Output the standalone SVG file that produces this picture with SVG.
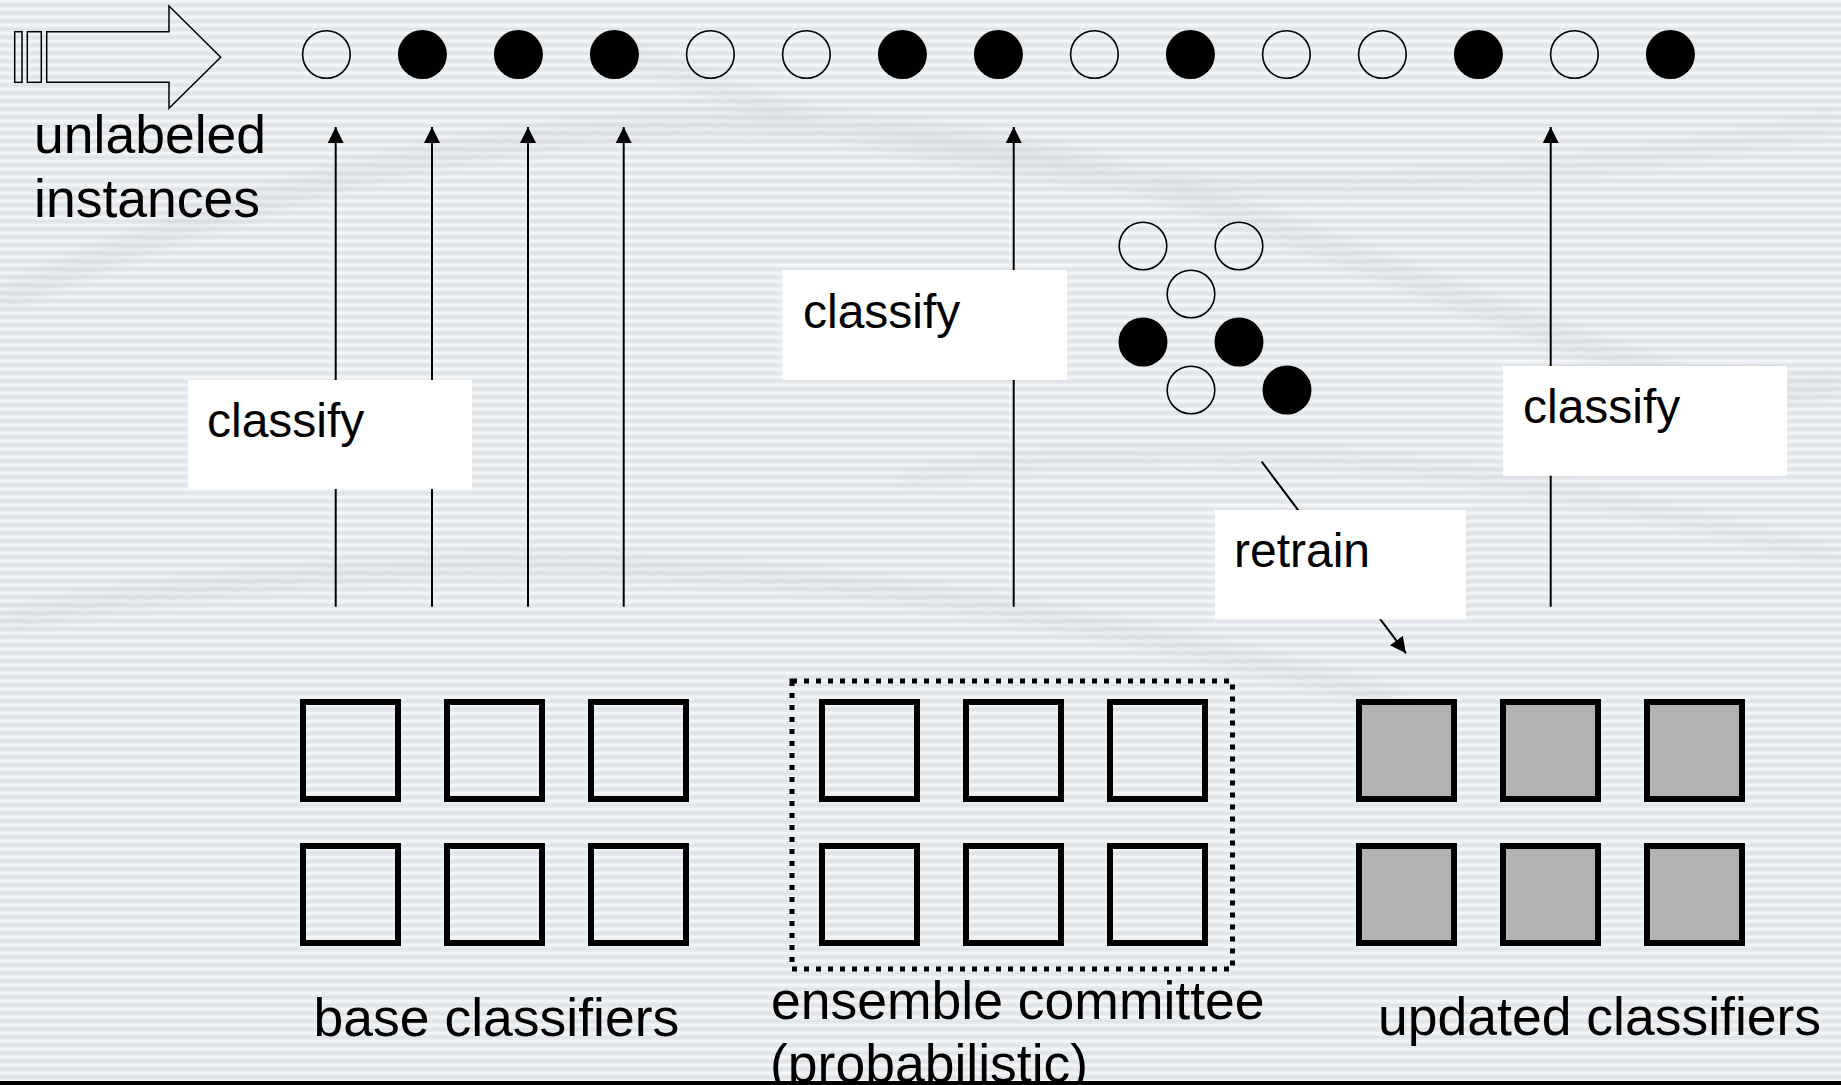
<svg xmlns="http://www.w3.org/2000/svg" width="1841" height="1085" viewBox="0 0 1841 1085">
<defs>
<pattern id="stripes" width="8" height="8" patternUnits="userSpaceOnUse">
<rect width="8" height="8" fill="#e8ebee"/>
<rect y="0" width="8" height="2.5" fill="#f3f5f7"/>
<rect y="4.5" width="8" height="1.5" fill="#dde1e5"/>
</pattern>
<filter id="blur" x="-20%" y="-50%" width="140%" height="200%"><feGaussianBlur stdDeviation="10"/></filter>
<marker id="ah" viewBox="0 0 16 16" refX="16" refY="8" markerWidth="16" markerHeight="16" markerUnits="userSpaceOnUse" orient="auto">
<path d="M0,0 L16,8 L0,16 z" fill="#000"/>
</marker>
</defs>
<style>
.lbl{font-family:"Liberation Sans",Arial,Helvetica,sans-serif;font-size:53.5px;fill:#000}
.tag{font-family:"Liberation Sans",Arial,Helvetica,sans-serif;font-size:48px;fill:#000}
.box{fill:#fff}
.conn{stroke:#000;stroke-width:2;fill:none;marker-end:url(#ah)}
.open{fill:none;stroke:#000;stroke-width:1.6}
.full{fill:#000}
.sq{fill:none;stroke:#000;stroke-width:6}
.sqg{fill:#b3b3b3;stroke:#000;stroke-width:6}
</style>
<g id="background">
<rect width="1841" height="1085" fill="url(#stripes)"/>
<g opacity="0.3" filter="url(#blur)" stroke="#b8bcc2" fill="none">
<path d="M0,300 C400,120 800,60 1200,200 S1700,420 1841,380" stroke-width="16"/>
<path d="M600,40 C900,180 1300,240 1841,120" stroke-width="12"/>
<path d="M0,620 C500,520 900,560 1400,700" stroke-width="14"/>
<path d="M900,480 C1200,420 1500,460 1841,560" stroke-width="10"/>
</g>
</g>
<g id="connectors">
<line class="conn" x1="335.7" y1="606.7" x2="335.7" y2="127"/>
<line class="conn" x1="432" y1="606.7" x2="432" y2="127"/>
<line class="conn" x1="528" y1="606.7" x2="528" y2="127"/>
<line class="conn" x1="623.7" y1="606.7" x2="623.7" y2="127"/>
<line class="conn" x1="1013.7" y1="606.7" x2="1013.7" y2="127"/>
<line class="conn" x1="1550.7" y1="606.7" x2="1550.7" y2="127"/>
<line class="conn" x1="1261.7" y1="461.7" x2="1406" y2="653.3"/>
</g>
<g id="input-arrow" fill="none" stroke="#000" stroke-width="1.5">
<rect x="14.7" y="31.7" width="7.3" height="50.6"/>
<rect x="27.3" y="31.7" width="14" height="50.6"/>
<path d="M46.7,31.7 L169,31.7 L169,6 L220.7,57.2 L169,108.3 L169,82.3 L46.7,82.3 Z"/>
</g>
<g id="unlabeled-label">
<text class="lbl" x="34" y="153.3">unlabeled</text>
<text class="lbl" x="34" y="216.7">instances</text>
</g>
<g id="instances">
<circle class="open" cx="326.4" cy="54.5" r="23.8"/>
<circle class="full" cx="422.4" cy="54.5" r="24.5"/>
<circle class="full" cx="518.4" cy="54.5" r="24.5"/>
<circle class="full" cx="614.4" cy="54.5" r="24.5"/>
<circle class="open" cx="710.4" cy="54.5" r="23.8"/>
<circle class="open" cx="806.4" cy="54.5" r="23.8"/>
<circle class="full" cx="902.4" cy="54.5" r="24.5"/>
<circle class="full" cx="998.4" cy="54.5" r="24.5"/>
<circle class="open" cx="1094.4" cy="54.5" r="23.8"/>
<circle class="full" cx="1190.4" cy="54.5" r="24.5"/>
<circle class="open" cx="1286.4" cy="54.5" r="23.8"/>
<circle class="open" cx="1382.4" cy="54.5" r="23.8"/>
<circle class="full" cx="1478.4" cy="54.5" r="24.5"/>
<circle class="open" cx="1574.4" cy="54.5" r="23.8"/>
<circle class="full" cx="1670.4" cy="54.5" r="24.5"/>
</g>
<g id="labeled-cluster">
<circle class="open" cx="1143" cy="246" r="23.8"/>
<circle class="open" cx="1239" cy="246" r="23.8"/>
<circle class="open" cx="1191" cy="294" r="23.8"/>
<circle class="full" cx="1143" cy="342" r="24.5"/>
<circle class="full" cx="1239" cy="342" r="24.5"/>
<circle class="open" cx="1191" cy="390" r="23.8"/>
<circle class="full" cx="1287" cy="390" r="24.5"/>
</g>
<g id="classify-1">
<rect class="box" x="188" y="380" width="284" height="109"/>
<text class="tag" x="207" y="436.7">classify</text>
</g>
<g id="classify-2">
<rect class="box" x="782.7" y="270" width="284.3" height="110"/>
<text class="tag" x="803" y="327.7">classify</text>
</g>
<g id="classify-3">
<rect class="box" x="1503" y="366" width="284" height="109.7"/>
<text class="tag" x="1523" y="423.3">classify</text>
</g>
<g id="retrain">
<rect class="box" x="1215" y="510" width="250.7" height="109.3"/>
<text class="tag" x="1234" y="566.7">retrain</text>
</g>
<g id="base-classifiers">
<rect class="sq" x="303" y="702" width="95" height="97"/>
<rect class="sq" x="447" y="702" width="95" height="97"/>
<rect class="sq" x="591" y="702" width="95" height="97"/>
<rect class="sq" x="303" y="846" width="95" height="97"/>
<rect class="sq" x="447" y="846" width="95" height="97"/>
<rect class="sq" x="591" y="846" width="95" height="97"/>
<text class="lbl" x="313.5" y="1036">base classifiers</text>
</g>
<g id="ensemble-committee">
<rect x="792" y="681" width="440.5" height="288" fill="none" stroke="#000" stroke-width="5" stroke-dasharray="5 7"/>
<rect class="sq" x="822" y="702" width="95" height="97"/>
<rect class="sq" x="966" y="702" width="95" height="97"/>
<rect class="sq" x="1110" y="702" width="95" height="97"/>
<rect class="sq" x="822" y="846" width="95" height="97"/>
<rect class="sq" x="966" y="846" width="95" height="97"/>
<rect class="sq" x="1110" y="846" width="95" height="97"/>
<text class="lbl" x="771" y="1019">ensemble committee</text>
<text class="lbl" x="770" y="1082">(probabilistic)</text>
</g>
<g id="updated-classifiers">
<rect class="sqg" x="1359" y="702" width="95" height="97"/>
<rect class="sqg" x="1503" y="702" width="95" height="97"/>
<rect class="sqg" x="1647" y="702" width="95" height="97"/>
<rect class="sqg" x="1359" y="846" width="95" height="97"/>
<rect class="sqg" x="1503" y="846" width="95" height="97"/>
<rect class="sqg" x="1647" y="846" width="95" height="97"/>
<text class="lbl" x="1378" y="1035">updated classifiers</text>
</g>
<rect id="bottom-bar" x="0" y="1081" width="1841" height="4" fill="#000"/>
</svg>
